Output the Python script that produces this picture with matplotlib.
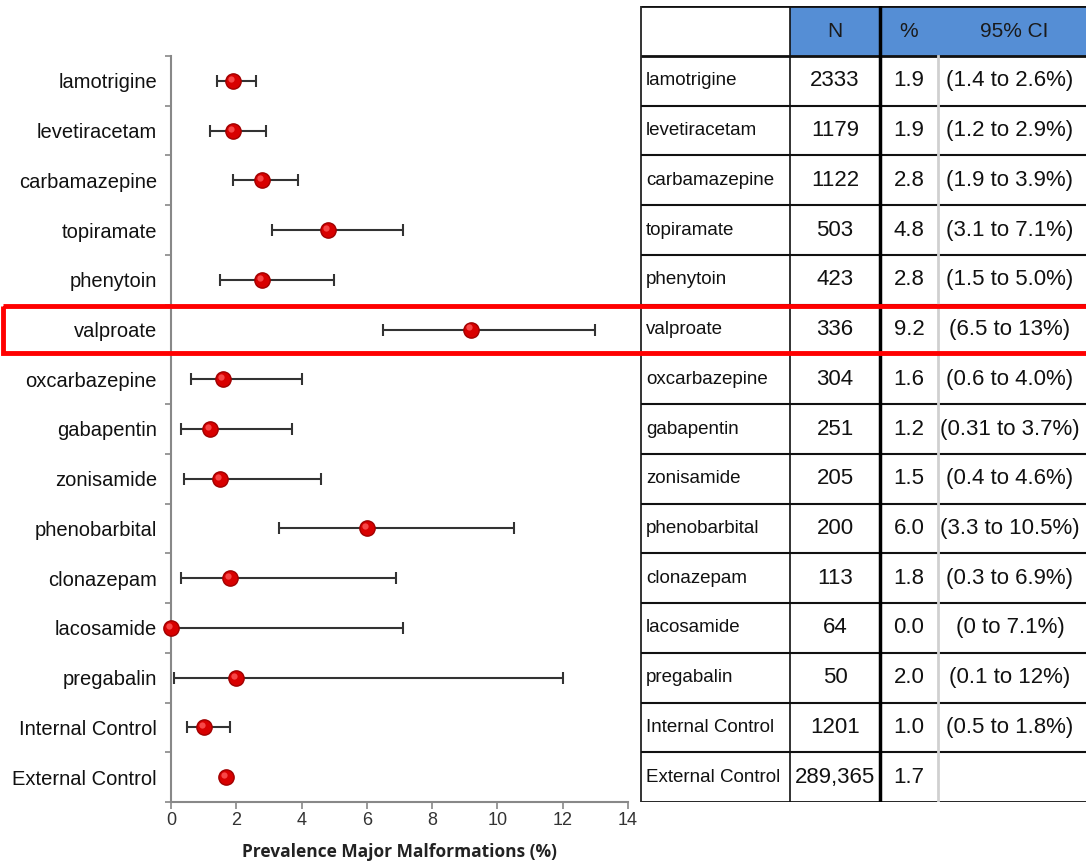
"""
Forest plot of major malformation prevalence with a side table.
"""

import matplotlib
matplotlib.use("Agg")  # headless
import matplotlib.pyplot as plt
import matplotlib.transforms as mtransforms
from matplotlib.patches import Rectangle

plt.rcParams["font.family"] = ["Liberation Sans", "DejaVu Sans"]

drugs = ["lamotrigine", "levetiracetam", "carbamazepine", "topiramate", "phenytoin",
         "valproate", "oxcarbazepine", "gabapentin", "zonisamide", "phenobarbital",
         "clonazepam", "lacosamide", "pregabalin", "Internal Control", "External Control"]
n_text = ["2333", "1179", "1122", "503", "423", "336", "304", "251", "205", "200",
          "113", "64", "50", "1201", "289,365"]
prevalence = [1.9, 1.9, 2.8, 4.8, 2.8, 9.2, 1.6, 1.2, 1.5, 6.0, 1.8, 0.0, 2.0, 1.0, 1.7]
ci_low = [1.4, 1.2, 1.9, 3.1, 1.5, 6.5, 0.6, 0.31, 0.4, 3.3, 0.3, 0.0, 0.1, 0.5, None]
ci_high = [2.6, 2.9, 3.9, 7.1, 5.0, 13, 4.0, 3.7, 4.6, 10.5, 6.9, 7.1, 12, 1.8, None]
ci_text = ["(1.4 to 2.6%)", "(1.2 to 2.9%)", "(1.9 to 3.9%)", "(3.1 to 7.1%)",
           "(1.5 to 5.0%)", "(6.5 to 13%)", "(0.6 to 4.0%)", "(0.31 to 3.7%)",
           "(0.4 to 4.6%)", "(3.3 to 10.5%)", "(0.3 to 6.9%)", "(0 to 7.1%)",
           "(0.1 to 12%)", "(0.5 to 1.8%)", ""]
headers = ["", "N", "%", "95% CI"]
highlight = "valproate"

W, H = 1086, 861
fig = plt.figure(figsize=(W / 100, H / 100), dpi=100)

# ---- forest plot ----
ax = fig.add_axes([171 / W, 1 - 802 / H, (628 - 171) / W, (802 - 56) / H])
rows = list(range(len(drugs)))
for i in rows:
    if ci_low[i] is not None:
        ax.errorbar(prevalence[i], i,
                    xerr=[[prevalence[i] - ci_low[i]], [ci_high[i] - prevalence[i]]],
                    fmt="none", ecolor="#333333", elinewidth=1.5, capsize=4,
                    capthick=1.5, zorder=2)
# red "sphere": dark rim, bright body, small soft highlight up-left
ax.plot(prevalence, rows, "o", ms=11, mfc="#d80000", mec="#a00000", mew=1,
        clip_on=False, zorder=3)
shine = ax.transData + mtransforms.ScaledTranslation(-1.5 / 72, 1.5 / 72,
                                                      fig.dpi_scale_trans)
ax.plot(prevalence, rows, "o", ms=4.5, mfc="#ff5a5a", mec="none", alpha=0.8,
        transform=shine, clip_on=False, zorder=4)

ax.set_xlim(0, 14)
ax.set_ylim(len(drugs) - 0.5, -0.5)
ax.set_xticks(range(0, 15, 2))
ax.set_yticks(rows)
ax.set_yticklabels(drugs, fontsize=14.5, color="#111111")
ax.set_yticks([r - 0.5 for r in rows] + [len(drugs) - 0.5], minor=True)
ax.tick_params(axis="y", which="major", length=0, pad=10)
ax.tick_params(axis="y", which="minor", length=4, width=1.2, color="#888888")
ax.tick_params(axis="x", length=5, width=1.2, color="#888888", labelsize=13,
               labelcolor="#333333", pad=2)
for side in ("top", "right"):
    ax.spines[side].set_visible(False)
for side in ("left", "bottom"):
    ax.spines[side].set_color("#888888")
    ax.spines[side].set_linewidth(1.5)
ax.set_xlabel("Prevalence Major Malformations (%)", fontsize=12.5,
              fontweight="bold", family=["Open Sans", "DejaVu Sans"],
              color="#222222", labelpad=10)

# ---- table ----
col_edges = [641, 790, 880, 938, 1090]
tab = fig.add_axes([0, 1 - 802 / H, 1, (802 - 6.3) / H])
tab.set_xlim(0, W)
tab.set_ylim(len(drugs) - 0.5, -1.5)
tab.axis("off")

tab.add_patch(Rectangle((col_edges[1], -1.5), col_edges[-1] - col_edges[1], 1,
                        facecolor="#558ed5", edgecolor="none", zorder=0))
for j, h in enumerate(headers):
    if h:
        tab.text((col_edges[j] + col_edges[j + 1]) / 2, -1, h, ha="center",
                 va="center", fontsize=15, color="#1a1a1a")

for i in rows:
    tab.text(col_edges[0] + 5, i, drugs[i], ha="left", va="center",
             fontsize=13.5, color="#111111")
    tab.text((col_edges[1] + col_edges[2]) / 2, i, n_text[i], ha="center",
             va="center", fontsize=16, color="#111111")
    tab.text((col_edges[2] + col_edges[3]) / 2, i, f"{prevalence[i]:.1f}",
             ha="center", va="center", fontsize=16, color="#111111")
    tab.text((col_edges[3] + col_edges[4]) / 2 - 4, i, ci_text[i], ha="center",
             va="center", fontsize=16, color="#111111", clip_on=True)

# horizontal rules
for k in range(-1, len(drugs) + 1):
    y = k - 0.5
    lw = 2.0 if k in (-1, 0, len(drugs)) else 1.5
    tab.plot([col_edges[0], col_edges[-1]], [y, y], color="#111111", lw=lw,
             solid_capstyle="butt")
# vertical rules
tab.plot([col_edges[0], col_edges[0]], [-1.5, len(drugs) - 0.5], color="#111111", lw=1.2)
tab.plot([col_edges[1], col_edges[1]], [-1.5, len(drugs) - 0.5], color="#111111", lw=1.2)
tab.plot([col_edges[2], col_edges[2]], [-1.5, len(drugs) - 0.5], color="#000000", lw=2.5)
tab.plot([col_edges[3], col_edges[3]], [-0.5, len(drugs) - 0.5], color="#d0d0d0", lw=2)

# ---- red highlight box across both panels ----
hi = drugs.index(highlight)
trans = mtransforms.blended_transform_factory(fig.transFigure, ax.transData)
fig.patches.append(Rectangle((3 / W, hi - 0.47), 1.0, 0.94, transform=trans,
                             fill=False, edgecolor="#ff0000", lw=3.5, zorder=10))

fig.savefig("out.png", dpi=100)
